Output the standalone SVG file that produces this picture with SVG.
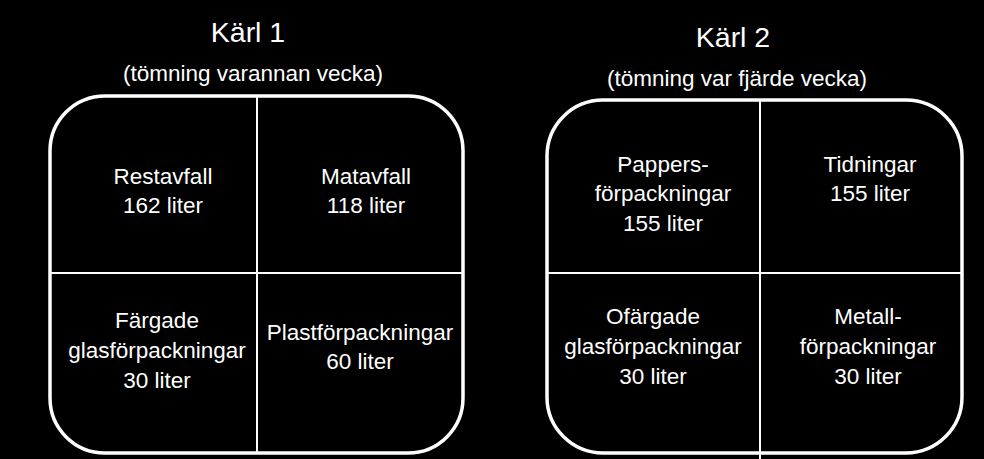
<svg xmlns="http://www.w3.org/2000/svg" width="984" height="459" viewBox="0 0 984 459">
<style>
.bin{fill:#000;stroke:#fff;stroke-width:3.5}
.div{stroke:#fff;stroke-width:2;fill:none}
text{fill:#fff;font-family:"Liberation Sans",Arial,sans-serif;text-anchor:middle}
.title{font-size:28.5px}
.sub{font-size:22.5px}
.cell{font-size:22.5px}
</style>
<rect width="984" height="459" fill="#000"/>
<g id="karl1">
<text class="title" x="248" y="42">Kärl 1</text>
<text class="sub" x="253" y="81">(tömning varannan vecka)</text>
<rect class="bin" x="50" y="96" width="413" height="357" rx="55" ry="55"/>
</g>
<g id="karl2">
<text class="title" x="733" y="47">Kärl 2</text>
<text class="sub" x="737" y="86">(tömning var fjärde vecka)</text>
<rect class="bin" x="547" y="100" width="415" height="353" rx="56" ry="56"/>
</g>
<g id="connectors">
<line class="div" x1="257" y1="97" x2="257" y2="452"/>
<line class="div" x1="51" y1="273" x2="462" y2="273"/>
<line class="div" x1="760" y1="101" x2="760" y2="459"/>
<line class="div" x1="548" y1="273" x2="961" y2="273"/>
</g>
<g id="restavfall">
<text class="cell" x="163" y="184">Restavfall</text>
<text class="cell" x="163" y="213">162 liter</text>
</g>
<g id="matavfall">
<text class="cell" x="366" y="184">Matavfall</text>
<text class="cell" x="366" y="213">118 liter</text>
</g>
<g id="fargade">
<text class="cell" x="157" y="328">Färgade</text>
<text class="cell" x="157" y="358">glasförpackningar</text>
<text class="cell" x="157" y="388">30 liter</text>
</g>
<g id="plast">
<text class="cell" x="360" y="340">Plastförpackningar</text>
<text class="cell" x="360" y="369">60 liter</text>
</g>
<g id="papper">
<text class="cell" x="663" y="172">Pappers-</text>
<text class="cell" x="663" y="201">förpackningar</text>
<text class="cell" x="663" y="231">155 liter</text>
</g>
<g id="tidningar">
<text class="cell" x="870" y="172">Tidningar</text>
<text class="cell" x="870" y="201">155 liter</text>
</g>
<g id="ofargade">
<text class="cell" x="653" y="324">Ofärgade</text>
<text class="cell" x="653" y="354">glasförpackningar</text>
<text class="cell" x="653" y="384">30 liter</text>
</g>
<g id="metall">
<text class="cell" x="868" y="324">Metall-</text>
<text class="cell" x="868" y="354">förpackningar</text>
<text class="cell" x="868" y="384">30 liter</text>
</g>
</svg>
